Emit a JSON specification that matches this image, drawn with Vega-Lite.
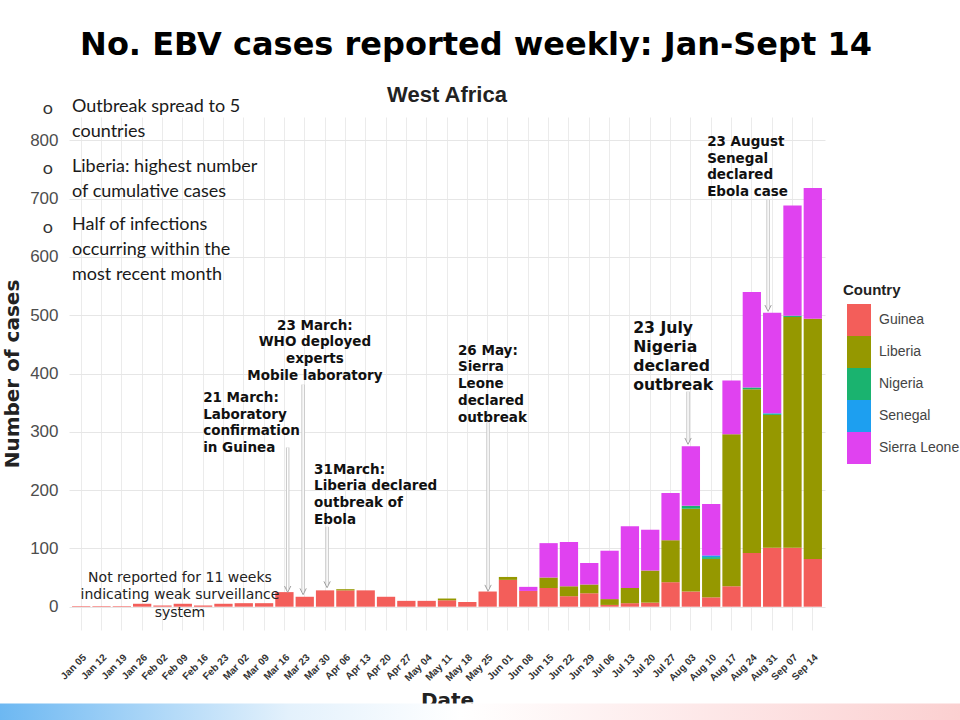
{
  "$schema": "https://vega.github.io/schema/vega-lite/v6.json",
  "width": 756,
  "height": 513,
  "autosize": {"type": "none"},
  "padding": {"left": 69, "top": 117, "right": 135, "bottom": 90},
  "background": "white",
  "title": {"text": "No. EBV cases reported weekly: Jan-Sept 14", "font": "DejaVu Sans", "fontSize": 32, "fontWeight": "bold", "color": "#000000", "anchor": "middle", "frame": "group", "dx": 29, "offset": 22},
  "config": {"view": {"stroke": null}},
  "datasets": {
    "cases": [
      {"w": "Jan 05", "c": "Guinea", "n": 1},
      {"w": "Jan 12", "c": "Guinea", "n": 1},
      {"w": "Jan 19", "c": "Guinea", "n": 1},
      {"w": "Jan 26", "c": "Guinea", "n": 5},
      {"w": "Feb 02", "c": "Guinea", "n": 2},
      {"w": "Feb 09", "c": "Guinea", "n": 5},
      {"w": "Feb 16", "c": "Guinea", "n": 2},
      {"w": "Feb 23", "c": "Guinea", "n": 5},
      {"w": "Mar 02", "c": "Guinea", "n": 6},
      {"w": "Mar 09", "c": "Guinea", "n": 6},
      {"w": "Mar 16", "c": "Guinea", "n": 25},
      {"w": "Mar 23", "c": "Guinea", "n": 17},
      {"w": "Mar 30", "c": "Guinea", "n": 28},
      {"w": "Apr 06", "c": "Guinea", "n": 28},
      {"w": "Apr 06", "c": "Liberia", "n": 2},
      {"w": "Apr 13", "c": "Guinea", "n": 28},
      {"w": "Apr 20", "c": "Guinea", "n": 17},
      {"w": "Apr 27", "c": "Guinea", "n": 10},
      {"w": "May 04", "c": "Guinea", "n": 10},
      {"w": "May 11", "c": "Guinea", "n": 11},
      {"w": "May 11", "c": "Liberia", "n": 3},
      {"w": "May 18", "c": "Guinea", "n": 8},
      {"w": "May 25", "c": "Guinea", "n": 26},
      {"w": "Jun 01", "c": "Guinea", "n": 46},
      {"w": "Jun 01", "c": "Liberia", "n": 5},
      {"w": "Jun 08", "c": "Guinea", "n": 27},
      {"w": "Jun 08", "c": "Sierra Leone", "n": 7},
      {"w": "Jun 15", "c": "Guinea", "n": 32},
      {"w": "Jun 15", "c": "Liberia", "n": 18},
      {"w": "Jun 15", "c": "Sierra Leone", "n": 59},
      {"w": "Jun 22", "c": "Guinea", "n": 18},
      {"w": "Jun 22", "c": "Liberia", "n": 17},
      {"w": "Jun 22", "c": "Sierra Leone", "n": 76},
      {"w": "Jun 29", "c": "Guinea", "n": 23},
      {"w": "Jun 29", "c": "Liberia", "n": 15},
      {"w": "Jun 29", "c": "Sierra Leone", "n": 37},
      {"w": "Jul 06", "c": "Guinea", "n": 3},
      {"w": "Jul 06", "c": "Liberia", "n": 10},
      {"w": "Jul 06", "c": "Sierra Leone", "n": 83},
      {"w": "Jul 13", "c": "Guinea", "n": 6},
      {"w": "Jul 13", "c": "Liberia", "n": 26},
      {"w": "Jul 13", "c": "Sierra Leone", "n": 106},
      {"w": "Jul 20", "c": "Guinea", "n": 7},
      {"w": "Jul 20", "c": "Liberia", "n": 55},
      {"w": "Jul 20", "c": "Sierra Leone", "n": 70},
      {"w": "Jul 27", "c": "Guinea", "n": 42},
      {"w": "Jul 27", "c": "Liberia", "n": 72},
      {"w": "Jul 27", "c": "Sierra Leone", "n": 81},
      {"w": "Aug 03", "c": "Guinea", "n": 26},
      {"w": "Aug 03", "c": "Liberia", "n": 142},
      {"w": "Aug 03", "c": "Nigeria", "n": 5},
      {"w": "Aug 03", "c": "Sierra Leone", "n": 102},
      {"w": "Aug 10", "c": "Guinea", "n": 16},
      {"w": "Aug 10", "c": "Liberia", "n": 66},
      {"w": "Aug 10", "c": "Nigeria", "n": 3},
      {"w": "Aug 10", "c": "Senegal", "n": 3},
      {"w": "Aug 10", "c": "Sierra Leone", "n": 88},
      {"w": "Aug 17", "c": "Guinea", "n": 35},
      {"w": "Aug 17", "c": "Liberia", "n": 261},
      {"w": "Aug 17", "c": "Sierra Leone", "n": 92},
      {"w": "Aug 24", "c": "Guinea", "n": 92},
      {"w": "Aug 24", "c": "Liberia", "n": 281},
      {"w": "Aug 24", "c": "Nigeria", "n": 3},
      {"w": "Aug 24", "c": "Sierra Leone", "n": 164},
      {"w": "Aug 31", "c": "Guinea", "n": 101},
      {"w": "Aug 31", "c": "Liberia", "n": 228},
      {"w": "Aug 31", "c": "Nigeria", "n": 2},
      {"w": "Aug 31", "c": "Senegal", "n": 1},
      {"w": "Aug 31", "c": "Sierra Leone", "n": 172},
      {"w": "Sep 07", "c": "Guinea", "n": 101},
      {"w": "Sep 07", "c": "Liberia", "n": 396},
      {"w": "Sep 07", "c": "Nigeria", "n": 2},
      {"w": "Sep 07", "c": "Sierra Leone", "n": 189},
      {"w": "Sep 14", "c": "Guinea", "n": 82},
      {"w": "Sep 14", "c": "Liberia", "n": 412},
      {"w": "Sep 14", "c": "Sierra Leone", "n": 224}
    ],
    "notesLeft": [
      {"i": 6.0, "v": 358, "t": "21 March:\nLaboratory\nconfirmation\nin Guinea"},
      {"i": 11.46, "v": 235, "t": "31March:\nLiberia declared\noutbreak of\nEbola"},
      {"i": 18.54, "v": 439, "t": "26 May:\nSierra\nLeone\ndeclared\noutbreak"},
      {"i": 30.8, "v": 797, "t": "23 August\nSenegal\ndeclared\nEbola case"}
    ],
    "notesCenter": [
      {"i": 11.5, "v": 482, "t": "23 March:\nWHO deployed\nexperts\nMobile laboratory"}
    ],
    "notesBig": [
      {"i": 27.16, "v": 478, "t": "23 July\nNigeria\ndeclared\noutbreak"}
    ],
    "notesPlain": [
      {"i": 4.86, "v": 50, "t": "Not reported for 11 weeks\nindicating weak surveillance\nsystem"}
    ],
    "arrows": [
      {"i": 10.16, "y1": 273, "y2": 30},
      {"i": 10.92, "y1": 381, "y2": 26},
      {"i": 12.1, "y1": 137, "y2": 38},
      {"i": 20.02, "y1": 316, "y2": 32},
      {"i": 29.86, "y1": 369, "y2": 284},
      {"i": 33.8, "y1": 698, "y2": 512}
    ],
    "bullets": [
      {"i": -0.45, "v": 858, "t": "Outbreak spread to 5"},
      {"i": -0.45, "v": 815, "t": "countries"},
      {"i": -0.45, "v": 755, "t": "Liberia: highest number"},
      {"i": -0.45, "v": 712, "t": "of cumulative cases"},
      {"i": -0.45, "v": 655, "t": "Half of infections"},
      {"i": -0.45, "v": 611, "t": "occurring within the"},
      {"i": -0.45, "v": 569, "t": "most recent month"}
    ],
    "dots": [
      {"i": -1.64, "v": 853, "t": "o"},
      {"i": -1.64, "v": 750, "t": "o"},
      {"i": -1.64, "v": 650, "t": "o"}
    ],
    "heading": [
      {"i": 18.0, "v": 878, "t": "West Africa"}
    ],
    "strip": [
      {"x1": -4.0, "x2": 43.3, "y1": -166, "y2": -205}
    ]
  },
  "layer": [
    {
      "data": {"name": "strip"},
      "mark": {"type": "rect", "fill": {"gradient": "linear", "x1": 0, "x2": 1, "y1": 0, "y2": 0, "stops": [{"offset": 0, "color": "#6db8f2"}, {"offset": 0.3, "color": "#e3f1fc"}, {"offset": 0.48, "color": "#ffffff"}, {"offset": 1, "color": "#fbcfd0"}]}},
      "encoding": {
        "x": {"field": "x1", "type": "quantitative", "scale": {"domain": [-0.6, 36.6], "nice": false, "zero": false}, "axis": null},
        "x2": {"field": "x2"},
        "y": {"field": "y1", "type": "quantitative"},
        "y2": {"field": "y2"}
      }
    },
    {
      "data": {"name": "cases"},
      "mark": {"type": "bar"},
      "encoding": {
        "x": {
          "field": "w", "type": "ordinal",
          "scale": {"domain": ["Jan 05","Jan 12","Jan 19","Jan 26","Feb 02","Feb 09","Feb 16","Feb 23","Mar 02","Mar 09","Mar 16","Mar 23","Mar 30","Apr 06","Apr 13","Apr 20","Apr 27","May 04","May 11","May 18","May 25","Jun 01","Jun 08","Jun 15","Jun 22","Jun 29","Jul 06","Jul 13","Jul 20","Jul 27","Aug 03","Aug 10","Aug 17","Aug 24","Aug 31","Sep 07","Sep 14"], "paddingInner": 0.1, "paddingOuter": 0.15},
          "axis": {"title": "Date", "titleFont": "DejaVu Sans", "titleFontSize": 20, "titleFontWeight": "bold", "titleColor": "#222222", "titlePadding": 8, "labelAngle": -45, "labelFont": "Liberation Sans", "labelFontSize": 10, "labelFontWeight": "bold", "labelColor": "#333333", "labelPadding": 22, "ticks": false, "domain": false, "grid": true, "gridColor": "#ebebeb", "bandPosition": 0.5}
        },
        "y": {
          "field": "n", "type": "quantitative", "stack": "zero",
          "scale": {"domain": [-40, 840], "nice": false, "zero": false},
          "axis": {"title": "Number of cases", "titleFont": "DejaVu Sans", "titleFontSize": 20, "titleFontWeight": "bold", "titleColor": "#222222", "titlePadding": 7, "values": [0,50,100,150,200,250,300,350,400,450,500,550,600,650,700,750,800], "labelExpr": "datum.value % 100 === 0 ? datum.label : ''", "labelFont": "Liberation Sans", "labelFontSize": 17, "labelColor": "#4d4d4d", "labelPadding": 11, "ticks": false, "domain": false, "grid": true, "gridColor": {"condition": {"test": "datum.value % 100 === 0", "value": "#e6e6e6"}, "value": "#f4f4f4"}}
        },
        "color": {
          "field": "c", "type": "nominal",
          "scale": {"domain": ["Guinea", "Liberia", "Nigeria", "Senegal", "Sierra Leone"], "range": ["#f35e5a", "#959800", "#1ab36f", "#1d9ff0", "#e042f0"]},
          "legend": {"title": "Country", "orient": "none", "legendX": 774, "legendY": 166, "titleFont": "Liberation Sans", "titleFontSize": 15, "titleFontWeight": "bold", "titleColor": "#222222", "titlePadding": 6, "labelFont": "Liberation Sans", "labelFontSize": 14, "labelColor": "#444444", "labelOffset": 4, "symbolType": "M-0.75,-1H0.75V1H-0.75Z", "symbolSize": 1024, "symbolStrokeWidth": 0, "symbolOpacity": 1, "rowPadding": 0}
        },
        "order": {"field": "c", "sort": "ascending"}
      }
    },
    {
      "data": {"name": "arrows"},
      "mark": {"type": "rule", "stroke": "#c8c8c8", "strokeWidth": 3.5},
      "encoding": {
        "x": {"field": "i", "type": "quantitative", "scale": {"domain": [-0.6, 36.6], "nice": false, "zero": false}, "axis": null},
        "y": {"field": "y1", "type": "quantitative"},
        "y2": {"field": "y2"}
      }
    },
    {
      "data": {"name": "arrows"},
      "mark": {"type": "rule", "stroke": "#ffffff", "strokeWidth": 1.5},
      "encoding": {
        "x": {"field": "i", "type": "quantitative", "scale": {"domain": [-0.6, 36.6], "nice": false, "zero": false}, "axis": null},
        "y": {"field": "y1", "type": "quantitative"},
        "y2": {"field": "y2"}
      }
    },
    {
      "data": {"name": "arrows"},
      "mark": {"type": "point", "shape": "M-1,-1L0,1L1,-1", "filled": false, "stroke": "#a0a0a0", "strokeWidth": 1, "size": 40, "opacity": 1},
      "encoding": {
        "x": {"field": "i", "type": "quantitative", "scale": {"domain": [-0.6, 36.6], "nice": false, "zero": false}, "axis": null},
        "y": {"field": "y2", "type": "quantitative"}
      }
    },
    {
      "data": {"name": "notesLeft"},
      "mark": {"type": "text", "font": "DejaVu Sans", "fontSize": 13.5, "fontWeight": "bold", "align": "left", "baseline": "middle", "lineBreak": "\n", "lineHeight": 16.7, "color": "#111111"},
      "encoding": {
        "x": {"field": "i", "type": "quantitative", "scale": {"domain": [-0.6, 36.6], "nice": false, "zero": false}, "axis": null},
        "y": {"field": "v", "type": "quantitative"},
        "text": {"field": "t"}
      }
    },
    {
      "data": {"name": "notesCenter"},
      "mark": {"type": "text", "font": "DejaVu Sans", "fontSize": 13.5, "fontWeight": "bold", "align": "center", "baseline": "middle", "lineBreak": "\n", "lineHeight": 16.7, "color": "#111111"},
      "encoding": {
        "x": {"field": "i", "type": "quantitative", "scale": {"domain": [-0.6, 36.6], "nice": false, "zero": false}, "axis": null},
        "y": {"field": "v", "type": "quantitative"},
        "text": {"field": "t"}
      }
    },
    {
      "data": {"name": "notesBig"},
      "mark": {"type": "text", "font": "DejaVu Sans", "fontSize": 15.7, "fontWeight": "bold", "align": "left", "baseline": "middle", "lineBreak": "\n", "lineHeight": 19, "color": "#111111"},
      "encoding": {
        "x": {"field": "i", "type": "quantitative", "scale": {"domain": [-0.6, 36.6], "nice": false, "zero": false}, "axis": null},
        "y": {"field": "v", "type": "quantitative"},
        "text": {"field": "t"}
      }
    },
    {
      "data": {"name": "notesPlain"},
      "mark": {"type": "text", "font": "DejaVu Sans", "fontSize": 14, "align": "center", "baseline": "middle", "lineBreak": "\n", "lineHeight": 17.5, "color": "#222222"},
      "encoding": {
        "x": {"field": "i", "type": "quantitative", "scale": {"domain": [-0.6, 36.6], "nice": false, "zero": false}, "axis": null},
        "y": {"field": "v", "type": "quantitative"},
        "text": {"field": "t"}
      }
    },
    {
      "data": {"name": "bullets"},
      "mark": {"type": "text", "font": "Lato", "fontSize": 18, "align": "left", "baseline": "middle", "color": "#1a1a1a"},
      "encoding": {
        "x": {"field": "i", "type": "quantitative", "scale": {"domain": [-0.6, 36.6], "nice": false, "zero": false}, "axis": null},
        "y": {"field": "v", "type": "quantitative"},
        "text": {"field": "t"}
      }
    },
    {
      "data": {"name": "dots"},
      "mark": {"type": "text", "font": "Lato", "fontSize": 18, "align": "center", "baseline": "middle", "color": "#333333"},
      "encoding": {
        "x": {"field": "i", "type": "quantitative", "scale": {"domain": [-0.6, 36.6], "nice": false, "zero": false}, "axis": null},
        "y": {"field": "v", "type": "quantitative"},
        "text": {"field": "t"}
      }
    },
    {
      "data": {"name": "heading"},
      "mark": {"type": "text", "font": "Liberation Sans", "fontSize": 22, "fontWeight": "bold", "align": "center", "baseline": "middle", "color": "#222222"},
      "encoding": {
        "x": {"field": "i", "type": "quantitative", "scale": {"domain": [-0.6, 36.6], "nice": false, "zero": false}, "axis": null},
        "y": {"field": "v", "type": "quantitative"},
        "text": {"field": "t"}
      }
    }
  ],
  "resolve": {"scale": {"x": "independent"}}
}
